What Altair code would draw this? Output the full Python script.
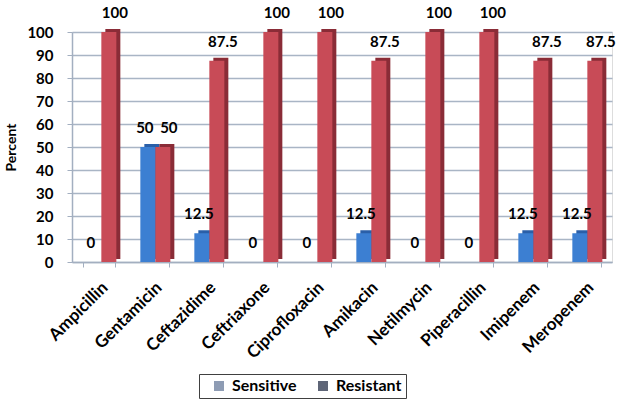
import altair as alt
import pandas as pd

drugs = ["Ampicillin", "Gentamicin", "Ceftazidime", "Ceftriaxone", "Ciprofloxacin",
         "Amikacin", "Netilmycin", "Piperacillin", "Imipenem", "Meropenem"]
sensitive = [0, 50, 12.5, 0, 0, 12.5, 0, 0, 12.5, 12.5]
resistant = [100, 50, 87.5, 100, 100, 87.5, 100, 100, 87.5, 87.5]
groups = ["Sensitive", "Resistant"]
y_ticks = list(range(0, 101, 10))

front_colors = ["#3C7FD2", "#C84B57"]
dark_colors = ["#2A5FA8", "#8A2C37"]
legend_colors = ["#8E9CB4", "#5E6577"]

rows = []
for d, s, r in zip(drugs, sensitive, resistant):
    rows.append({"Drug": d, "Group": "Sensitive", "Value": s, "Label": f"{s:g}"})
    rows.append({"Drug": d, "Group": "Resistant", "Value": r, "Label": f"{r:g}"})
df = pd.DataFrame(rows)

FONT = "Lato"

x_enc = alt.X("Drug:N", sort=drugs,
              scale=alt.Scale(paddingInner=0.42, paddingOuter=0.21),
              axis=alt.Axis(title=None, labelAngle=-45, labelFontSize=17,
                            labelFontWeight="bold", labelColor="#000000",
                            labelPadding=12, domainColor="#A3AFC0", domainWidth=1.5,
                            tickColor="#A3AFC0", tickBand="extent", tickSize=5,
                            labelFont=FONT))
y_enc = alt.Y("Value:Q", scale=alt.Scale(domain=[0, 100]),
              axis=alt.Axis(title="Percent", values=y_ticks, labelFontSize=15,
                            labelFontWeight="bold", labelColor="#000000", labelFont=FONT,
                            titleFont=FONT, titleFontSize=14, titleFontWeight="bold",
                            titleColor="#000000", titlePadding=8,
                            grid=True, gridColor="#A9B5C5", gridWidth=1.5,
                            domainColor="#A3AFC0", domainWidth=1.5,
                            tickColor="#A3AFC0", tickSize=5, labelPadding=14))


def xoff(shift):
    return alt.XOffset("Group:N", sort=groups,
                       scale=alt.Scale(domain=groups, range=[shift, shift + 30]))


dark = alt.Chart(df).mark_bar(yOffset=-3).encode(
    x=x_enc, y=y_enc, xOffset=xoff(7),
    color=alt.Color("Group:N", sort=groups,
                    scale=alt.Scale(domain=groups, range=dark_colors), legend=None),
)

front = alt.Chart(df).mark_bar().encode(
    x=x_enc, y=y_enc, xOffset=xoff(3),
    color=alt.Color("Group:N", sort=groups,
                    scale=alt.Scale(domain=groups, range=front_colors), legend=None),
)

legend_layer = alt.Chart(df).mark_bar().encode(
    x=x_enc, y=alt.value(230), y2=alt.value(230),
    color=alt.Color("Group:N", sort=groups,
                    scale=alt.Scale(domain=groups, range=legend_colors),
                    legend=alt.Legend(title=None, orient="none", legendX=127, legendY=342,
                                      direction="horizontal", symbolType="square",
                                      symbolSize=100, symbolStrokeWidth=0,
                                      labelFontSize=16, labelFontWeight="bold",
                                      labelFont=FONT, labelColor="#000000",
                                      strokeColor="#404040", padding=4,
                                      symbolOffset=8, columnPadding=10, labelOffset=5)),
)

text_style = dict(dy=-19, fontSize=15, fontWeight="bold", font=FONT,
                  color="#000000", baseline="middle")

labels_s = alt.Chart(df).transform_filter(alt.datum.Group == "Sensitive").mark_text(
    dx=-3, **text_style).encode(
    x=x_enc, y=y_enc, xOffset=xoff(3), text="Label:N",
)
labels_r = alt.Chart(df).transform_filter(alt.datum.Group == "Resistant").mark_text(
    dx=6, **text_style).encode(
    x=x_enc, y=y_enc, xOffset=xoff(3), text="Label:N",
)

chart = alt.layer(legend_layer, dark, front, labels_s, labels_r).resolve_scale(
    color="independent", xOffset="independent").properties(
    width=540, height=230,
    padding={"left": 72, "top": 32, "right": 9, "bottom": 139},
    autosize=alt.AutoSizeParams(type="none"),
).configure_view(fill="#EFFFFF", stroke=None).configure(background="#FFFFFF")

chart.save("out.html", embed_options={"renderer": "svg", "actions": False})
